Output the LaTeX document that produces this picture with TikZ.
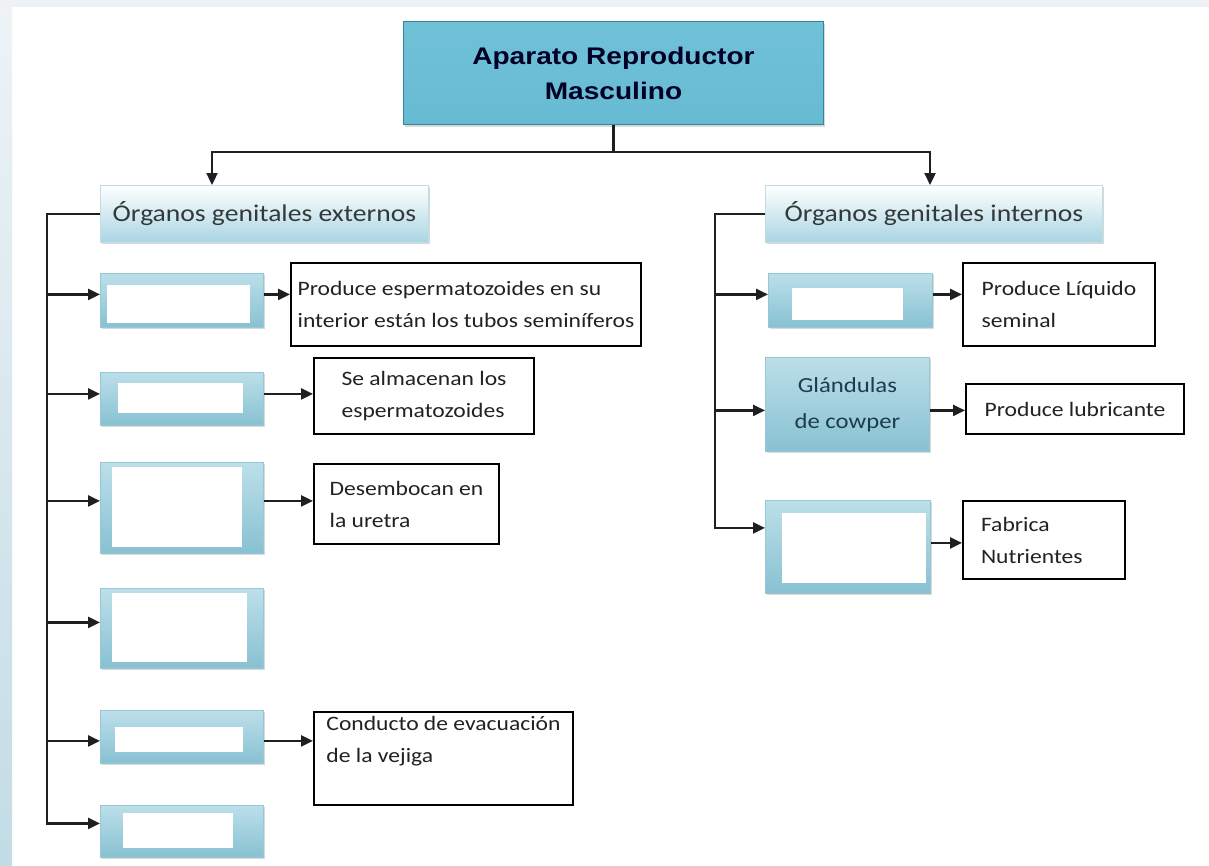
\documentclass[tikz,border=0pt]{standalone}
\usepackage{fontspec}
\newfontfamily\calf[FakeStretch=1.15]{Carlito}
\newfontfamily\arf[FakeStretch=1.17]{Liberation Sans}
\usetikzlibrary{arrows.meta,shadows,calc}
\definecolor{titletop}{HTML}{70C1D8}
\definecolor{titlemid}{HTML}{40A6C3}
\definecolor{titlebot}{HTML}{66BBD3}
\definecolor{titleedge}{HTML}{36849A}
\definecolor{bluetop}{HTML}{BCDFE9}
\definecolor{bluebot}{HTML}{88C1D2}
\definecolor{blueedge}{HTML}{96C7D5}
\definecolor{catbot}{HTML}{A9D5E3}
\definecolor{catedge}{HTML}{BEDDE7}
\definecolor{striptop}{HTML}{EEF3F6}
\definecolor{stripbot}{HTML}{C3DCE5}
\definecolor{topband}{HTML}{EEF2F5}
\definecolor{desctext}{HTML}{222222}
\definecolor{cattext}{HTML}{34393C}
\definecolor{glatext}{HTML}{1E3D4C}
\tikzset{
  conn/.style={line width=2.3pt, draw=black!88},
  arr/.style={conn, -{Triangle[length=12pt,width=11pt]}},
  boxshadow/.style={drop shadow={shadow xshift=1.5pt, shadow yshift=-2pt, opacity=0.25, fill=black!60}},
  titlebox/.style={rectangle, anchor=north west, draw=titleedge, line width=1pt,
    top color=titletop, middle color=titlemid, bottom color=titlebot, boxshadow,
    align=center, text=black!85!blue, font=\arf\bfseries\fontsize{24}{35}\selectfont},
  catbox/.style={rectangle, anchor=north west, draw=catedge, line width=0.8pt,
    top color=white, bottom color=catbot, boxshadow,
    text=cattext, font=\calf\fontsize{24}{30}\selectfont},
  bluebox/.style={rectangle, anchor=north west, draw=blueedge, line width=0.8pt,
    top color=bluetop, bottom color=bluebot, boxshadow,
    align=center, text=glatext, font=\calf\fontsize{21.5}{36}\selectfont},
  descbox/.style={rectangle, anchor=north west, draw=black, line width=2pt, fill=white,
    align=left, text=desctext, font=\calf\fontsize{20.5}{32}\selectfont},
  patch/.style={fill=white}
}
\begin{document}
\begin{tikzpicture}[x=1pt,y=-1pt]
% background
\fill[white] (0,0) rectangle (1209,865);
\fill[top color=striptop, bottom color=stripbot] (0,0) rectangle (12,865);
\fill[topband] (0,0) rectangle (1209,7);
\useasboundingbox (0,0) rectangle (1209,865);

% title
\node[titlebox, minimum width=420pt, minimum height=103pt] (t) at (403,21) {Aparato Reproductor\\Masculino};

% categories
\node[catbox, minimum width=328pt, minimum height=57pt] (ext) at (100,185) {Órganos genitales externos};
\node[catbox, minimum width=337pt, minimum height=57pt] (int) at (765,185) {Órganos genitales internos};

% left blue boxes
\node[bluebox, minimum width=163pt, minimum height=54pt] (b1) at (100,273) {};
\node[bluebox, minimum width=163pt, minimum height=53pt] (b2) at (100,372) {};
\node[bluebox, minimum width=163pt, minimum height=91pt] (b3) at (100,462) {};
\node[bluebox, minimum width=163pt, minimum height=80pt] (b4) at (100,588) {};
\node[bluebox, minimum width=163pt, minimum height=53pt] (b5) at (100,710) {};
\node[bluebox, minimum width=163pt, minimum height=52pt] (b6) at (100,805) {};

% right blue boxes
\node[bluebox, minimum width=164pt, minimum height=54pt] (r1) at (768,273) {};
\node[bluebox, minimum width=164pt, minimum height=94pt] (r2) at (765,357) {Glándulas\\de cowper};
\node[bluebox, minimum width=165pt, minimum height=93pt] (r3) at (765,500) {};

% erased patches
\fill[patch] (107,285) rectangle (250,323);
\fill[patch] (118,383) rectangle (243,413);
\fill[patch] (112,467) rectangle (242,547);
\fill[patch] (112,593) rectangle (247,662);
\fill[patch] (115,727) rectangle (243,752);
\fill[patch] (123,813) rectangle (233,848);
\fill[patch] (792,288) rectangle (903,320);
\fill[patch] (782,513) rectangle (926,583);

% description boxes
\node[descbox, minimum width=350pt, minimum height=83pt] (d1) at (290,262) {Produce espermatozoides en su\\interior están los tubos seminíferos};
\node[descbox, minimum width=220pt, minimum height=76pt] (d2) at (313,357) {Se almacenan los\\espermatozoides};
\node[descbox, minimum width=185pt, minimum height=80pt] (d3) at (313,463) {Desembocan en\\la uretra};
\node[descbox, minimum width=259pt, minimum height=93pt] (d5) at (313,711) {Conducto de evacuación\\de la vejiga\\[6pt]};
\node[descbox, minimum width=192pt, minimum height=83pt] (e1) at (962,262) {Produce Líquido\\seminal};
\node[descbox, minimum width=218pt, minimum height=50pt] (e2) at (965,383) {Produce lubricante};
\node[descbox, minimum width=162pt, minimum height=78pt, text width=126pt] (e3) at (962,500) {Fabrica\\Nutrientes};

% junction coordinates
\coordinate (hL) at (212,152);
\coordinate (hR) at (930,152);
\coordinate (tl) at (47,0);
\coordinate (tr) at (715,0);
\coordinate (a1) at ($(b1.west)+(0,-6)$);
\coordinate (a2) at ($(b2.west)+(0,-5)$);
\coordinate (a3) at ($(b3.west)+(0,-7)$);
\coordinate (a4) at ($(b4.west)+(0,-6)$);
\coordinate (a5) at ($(b5.west)+(0,4)$);
\coordinate (a6) at ($(b6.west)+(0,-8)$);
\coordinate (c1) at ($(r1.west)+(0,-6)$);
\coordinate (c2) at ($(r2.west)+(0,6)$);
\coordinate (c3) at ($(r3.west)+(0,-19)$);
\coordinate (o3) at ($(r3.east)+(0,-4)$);

% title connectors
\draw[conn] (t.south) -- (t.south |- hL);
\draw[arr] (t.south |- hL) -| (ext.north -| hL);
\draw[arr] (t.south |- hL) -| (int.north -| hR);

% left trunk
\draw[arr] (ext.west) -| (tl |- a6) -- (a6);
\draw[arr] (tl |- a1) -- (a1);
\draw[arr] (tl |- a2) -- (a2);
\draw[arr] (tl |- a3) -- (a3);
\draw[arr] (tl |- a4) -- (a4);
\draw[arr] (tl |- a5) -- (a5);

% right trunk
\draw[arr] (int.west) -| (tr |- c3) -- (c3);
\draw[arr] (tr |- c1) -- (c1);
\draw[arr] (tr |- c2) -- (c2);

% outgoing arrows
\draw[arr] (a1 -| b1.east) -- (a1 -| d1.west);
\draw[arr] (a2 -| b2.east) -- (a2 -| d2.west);
\draw[arr] (a3 -| b3.east) -- (a3 -| d3.west);
\draw[arr] (a5 -| b5.east) -- (a5 -| d5.west);
\draw[arr] (c1 -| r1.east) -- (c1 -| e1.west);
\draw[arr] (c2 -| r2.east) -- (c2 -| e2.west);
\draw[arr] (o3) -- (o3 -| e3.west);
\end{tikzpicture}
\end{document}
